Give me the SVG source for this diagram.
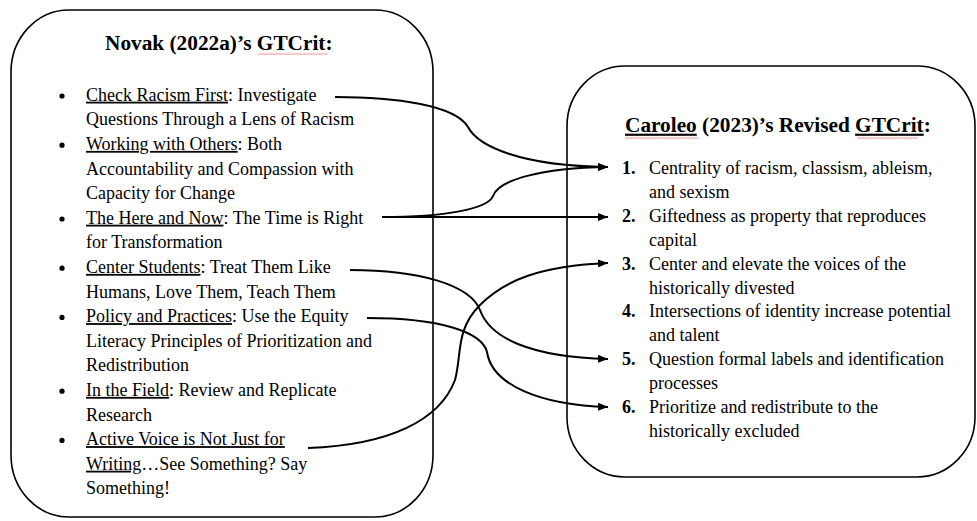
<svg xmlns="http://www.w3.org/2000/svg" width="977" height="521" viewBox="0 0 977 521">
<style>
  .box { fill: #ffffff; stroke: #000000; stroke-width: 1.6; }
  .t { font-family: "Liberation Serif", "Times New Roman", serif; font-size: 18px; fill: #000000; }
  .title { font-family: "Liberation Serif", "Times New Roman", serif; font-size: 21.3px; font-weight: bold; fill: #000000; }
  .num { font-weight: bold; }
  .u { text-decoration: underline; }
  .bul { fill: #000000; }
  .conn { fill: none; stroke: #000000; stroke-width: 2; }
</style>
<defs>
  <marker id="arrow" markerUnits="userSpaceOnUse" markerWidth="10" markerHeight="8" refX="10" refY="4" orient="auto">
    <path d="M0,0 L10,4 L0,8 Z" fill="#000000"/>
  </marker>
  <pattern id="squig" x="0" y="0" width="3" height="2.4" patternUnits="userSpaceOnUse">
    <path d="M0,0.5 L1.5,1.9 L3,0.5" fill="none" stroke="#e0393e" stroke-width="0.7"/>
  </pattern>
</defs>
<rect width="977" height="521" fill="#ffffff"/>

<g id="node-novak">
  <rect class="box" x="11" y="10" width="422" height="507" rx="58" ry="62"/>
  <text class="title" x="105" y="50">Novak (2022a)’s GTCrit:</text>
  <rect x="258" y="52.8" width="70" height="2.4" fill="url(#squig)"/>
  <g id="item-check-racism">
    <circle class="bul" cx="62" cy="96" r="2.6"/>
    <text class="t" x="86" y="100.7"><tspan class="u">Check Racism First</tspan>: Investigate</text>
    <text class="t" x="86" y="125.3">Questions Through a Lens of Racism</text>
  </g>
  <g id="item-working-with-others">
    <circle class="bul" cx="62" cy="145.2" r="2.6"/>
    <text class="t" x="86" y="149.9"><tspan class="u">Working with Others</tspan>: Both</text>
    <text class="t" x="86" y="174.5">Accountability and Compassion with</text>
    <text class="t" x="86" y="199.1">Capacity for Change</text>
  </g>
  <g id="item-here-and-now">
    <circle class="bul" cx="62" cy="219" r="2.6"/>
    <text class="t" x="86" y="223.7"><tspan class="u">The Here and Now</tspan>: The Time is Right</text>
    <text class="t" x="86" y="248.3">for Transformation</text>
  </g>
  <g id="item-center-students">
    <circle class="bul" cx="62" cy="268.2" r="2.6"/>
    <text class="t" x="86" y="272.9"><tspan class="u">Center Students</tspan>: Treat Them Like</text>
    <text class="t" x="86" y="297.5">Humans, Love Them, Teach Them</text>
  </g>
  <g id="item-policy-practices">
    <circle class="bul" cx="62" cy="317.4" r="2.6"/>
    <text class="t" x="86" y="322.1"><tspan class="u">Policy and Practices</tspan>: Use the Equity</text>
    <text class="t" x="86" y="346.7">Literacy Principles of Prioritization and</text>
    <text class="t" x="86" y="371.3">Redistribution</text>
  </g>
  <g id="item-in-the-field">
    <circle class="bul" cx="62" cy="391.2" r="2.6"/>
    <text class="t" x="86" y="395.9"><tspan class="u">In the Field</tspan>: Review and Replicate</text>
    <text class="t" x="86" y="420.5">Research</text>
  </g>
  <g id="item-active-voice">
    <circle class="bul" cx="62" cy="440.4" r="2.6"/>
    <text class="t" x="86" y="445.1"><tspan class="u">Active Voice is Not Just for</tspan></text>
    <text class="t" x="86" y="469.7"><tspan class="u">Writing</tspan>…See Something? Say</text>
    <text class="t" x="86" y="494.3">Something!</text>
  </g>
</g>

<g id="node-caroleo">
  <rect class="box" x="567" y="66" width="408" height="411" rx="58" ry="60"/>
  <text class="title" x="625" y="131.7"><tspan class="u">Caroleo</tspan> (2023)’s Revised <tspan class="u">GTCrit</tspan>:</text>
  <rect x="625" y="136.8" width="74" height="2.4" fill="url(#squig)"/>
  <rect x="857" y="136.8" width="61" height="2.4" fill="url(#squig)"/>
  <g id="rev-1">
    <text class="t" x="622" y="174"><tspan class="num">1.</tspan></text>
    <text class="t" x="649" y="174">Centrality of racism, classism, ableism,</text>
    <text class="t" x="649" y="197.9">and sexism</text>
  </g>
  <g id="rev-2">
    <text class="t" x="622" y="221.8"><tspan class="num">2.</tspan></text>
    <text class="t" x="649" y="221.8">Giftedness as property that reproduces</text>
    <text class="t" x="649" y="245.7">capital</text>
  </g>
  <g id="rev-3">
    <text class="t" x="622" y="269.6"><tspan class="num">3.</tspan></text>
    <text class="t" x="649" y="269.6">Center and elevate the voices of the</text>
    <text class="t" x="649" y="293.5">historically divested</text>
  </g>
  <g id="rev-4">
    <text class="t" x="622" y="317.4"><tspan class="num">4.</tspan></text>
    <text class="t" x="649" y="317.4">Intersections of identity increase potential</text>
    <text class="t" x="649" y="341.3">and talent</text>
  </g>
  <g id="rev-5">
    <text class="t" x="622" y="365.2"><tspan class="num">5.</tspan></text>
    <text class="t" x="649" y="365.2">Question formal labels and identification</text>
    <text class="t" x="649" y="389.1">processes</text>
  </g>
  <g id="rev-6">
    <text class="t" x="622" y="413"><tspan class="num">6.</tspan></text>
    <text class="t" x="649" y="413">Prioritize and redistribute to the</text>
    <text class="t" x="649" y="436.9">historically excluded</text>
  </g>
</g>

<g id="connectors">
  <path class="conn" marker-end="url(#arrow)" d="M335,97 C395,97 455,105 468,127 C478,146 520,166 608,167"/>
  <path class="conn" marker-end="url(#arrow)" d="M382,217 C445,217 488,209 493,196 C499,180 540,168 608,167"/>
  <path class="conn" marker-end="url(#arrow)" d="M382,217 L608,217"/>
  <path class="conn" marker-end="url(#arrow)" d="M350,270 C420,270 470,285 480,310 C490,338 530,357 608,359"/>
  <path class="conn" marker-end="url(#arrow)" d="M367,318 C440,318 482,332 487,352 C492,385 540,405 608,407"/>
  <path class="conn" marker-end="url(#arrow)" d="M308,448 C390,445 440,420 455,380 C462,355 455,330 480,305 C505,280 540,266 608,263"/>
</g>
</svg>
